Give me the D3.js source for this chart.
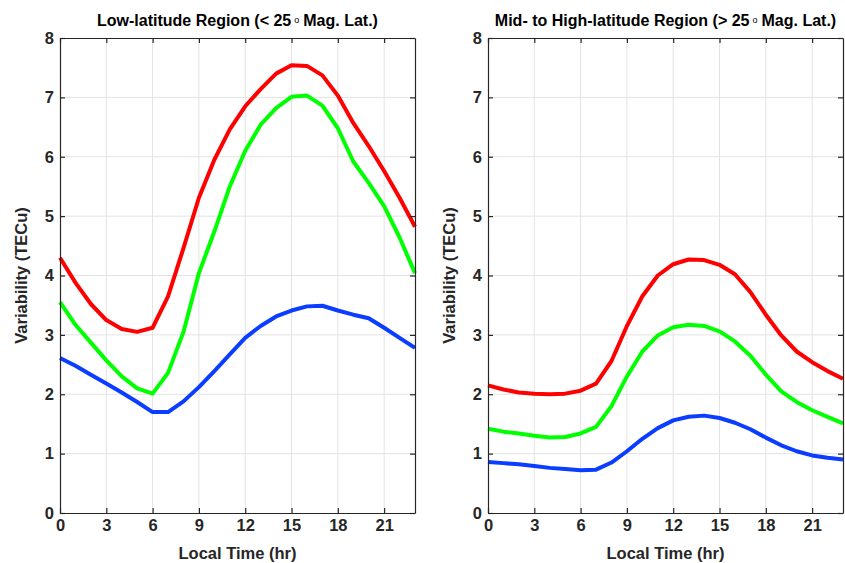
<!DOCTYPE html>
<html>
<head>
<meta charset="UTF-8" />
<title>TEC variability</title>
<script src="https://d3js.org/d3.v7.min.js"></script>
<style type="text/css">
body {
    margin: 0;
    background-color: #fff;
    font-family: "Liberation Sans", Arial, Helvetica, sans-serif;
}
.grid line {
    stroke: #e3e3e3;
    stroke-width: 1;
}
.tick-label {
    font-size: 16.5px;
    font-weight: bold;
    fill: #262626;
}
.axis-title {
    font-size: 16.5px;
    font-weight: bold;
    fill: #262626;
}
.panel-title {
    font-size: 16px;
    font-weight: bold;
    fill: #000;
}
</style>
</head>
<body>
<svg id="chart" width="845" height="563"></svg>

<script type="text/javascript">
// local time, hours
var hours = [0, 1, 2, 3, 4, 5, 6, 7, 8, 9, 10, 11, 12, 13, 14, 15, 16, 17, 18, 19, 20, 21, 22, 23];
var xTicks = [0, 3, 6, 9, 12, 15, 18, 21];
var yTicks = [0, 1, 2, 3, 4, 5, 6, 7, 8];

// low-latitude panel
var lowRed   = [4.30, 3.88, 3.52, 3.25, 3.10, 3.05, 3.12, 3.65, 4.46, 5.31, 5.95, 6.46, 6.85, 7.14, 7.40, 7.54, 7.53, 7.37, 7.03, 6.57, 6.18, 5.76, 5.31, 4.82];
var lowGreen = [3.55, 3.17, 2.87, 2.57, 2.30, 2.10, 2.01, 2.36, 3.05, 4.04, 4.74, 5.50, 6.10, 6.54, 6.82, 7.01, 7.03, 6.86, 6.48, 5.92, 5.56, 5.17, 4.64, 4.04];
var lowBlue  = [2.61, 2.48, 2.33, 2.18, 2.03, 1.87, 1.70, 1.70, 1.88, 2.12, 2.39, 2.67, 2.95, 3.15, 3.31, 3.41, 3.48, 3.49, 3.41, 3.34, 3.28, 3.12, 2.95, 2.78];

// mid/high-latitude panel
var highRed   = [2.15, 2.08, 2.03, 2.01, 2.00, 2.01, 2.06, 2.18, 2.56, 3.15, 3.65, 4.00, 4.19, 4.27, 4.26, 4.18, 4.02, 3.72, 3.34, 2.99, 2.72, 2.54, 2.39, 2.26];
var highGreen = [1.42, 1.37, 1.34, 1.30, 1.27, 1.28, 1.34, 1.45, 1.80, 2.30, 2.72, 2.99, 3.13, 3.17, 3.15, 3.06, 2.89, 2.65, 2.33, 2.05, 1.87, 1.73, 1.62, 1.51];
var highBlue  = [0.86, 0.84, 0.82, 0.79, 0.76, 0.74, 0.72, 0.73, 0.85, 1.04, 1.25, 1.43, 1.56, 1.62, 1.64, 1.60, 1.52, 1.41, 1.27, 1.14, 1.04, 0.97, 0.93, 0.90];

var colors = ['#ff0000', '#00ff00', '#0a3dff'];

var panels = [
    { title: ['Low-latitude Region (< 25', 'Mag. Lat.)'], left: 60, series: [lowRed, lowGreen, lowBlue] },
    { title: ['Mid- to High-latitude Region (> 25', 'Mag. Lat.)'], left: 488, series: [highRed, highGreen, highBlue] }
];

var svg = d3.select('#chart');
var top0 = 38, plotW = 355, plotH = 475;

panels.forEach(function(p) {
    var g = svg.append('g').attr('transform', 'translate(' + p.left + ',' + top0 + ')');

    var x = d3.scaleLinear().domain([0, 23]).range([0, plotW]);
    var y = d3.scaleLinear().domain([0, 8]).range([plotH, 0]);

    // grid
    var grid = g.append('g').attr('class', 'grid');
    grid.selectAll('.gx').data(xTicks.slice(1)).enter().append('line')
        .attr('x1', function(d) { return x(d); }).attr('x2', function(d) { return x(d); })
        .attr('y1', 0).attr('y2', plotH);
    grid.selectAll('.gy').data(yTicks.slice(1, -1)).enter().append('line')
        .attr('y1', function(d) { return y(d); }).attr('y2', function(d) { return y(d); })
        .attr('x1', 0).attr('x2', plotW);

    // lines
    var line = d3.line()
        .x(function(d, i) { return x(hours[i]); })
        .y(function(d) { return y(d); });

    p.series.forEach(function(s, k) {
        g.append('path').datum(s)
            .attr('d', line)
            .attr('fill', 'none')
            .attr('stroke', colors[k])
            .attr('stroke-width', 4)
            .attr('stroke-linejoin', 'round');
    });

    // axes, ticks pointing inward on all four sides
    var xb = d3.axisBottom(x).tickValues(xTicks).tickSizeInner(-5).tickSizeOuter(0).tickPadding(6);
    var xt = d3.axisTop(x).tickValues(xTicks).tickSizeInner(-5).tickSizeOuter(0).tickFormat('');
    var yl = d3.axisLeft(y).tickValues(yTicks).tickSizeInner(-5).tickSizeOuter(0).tickPadding(6);
    var yr = d3.axisRight(y).tickValues(yTicks).tickSizeInner(-5).tickSizeOuter(0).tickFormat('');

    [
        g.append('g').attr('transform', 'translate(0,' + plotH + ')').call(xb),
        g.append('g').call(xt),
        g.append('g').call(yl),
        g.append('g').attr('transform', 'translate(' + plotW + ',0)').call(yr)
    ].forEach(function(a) {
        a.select('.domain').attr('stroke', '#262626').attr('stroke-width', 1.2);
        a.selectAll('.tick line').attr('stroke', '#262626').attr('stroke-width', 1.2);
        a.selectAll('.tick text').attr('class', 'tick-label').attr('font-family', null).attr('font-size', null);
    });

    // titles
    var t = g.append('text').attr('class', 'panel-title')
        .attr('x', plotW / 2).attr('y', -12).attr('text-anchor', 'middle');
    t.append('tspan').text(p.title[0]);
    t.append('tspan').attr('dx', 3).attr('dy', -3).attr('font-size', 9).attr('font-weight', 'normal').text('o');
    t.append('tspan').attr('dx', 4).attr('dy', 3).text(p.title[1]);

    g.append('text').attr('class', 'axis-title')
        .attr('x', plotW / 2).attr('y', plotH + 46).attr('text-anchor', 'middle')
        .text('Local Time (hr)');

    g.append('text').attr('class', 'axis-title')
        .attr('transform', 'translate(-33,' + (plotH / 2) + ') rotate(-90)')
        .attr('text-anchor', 'middle')
        .text('Variability (TECu)');
});
</script>
</body>
</html>
